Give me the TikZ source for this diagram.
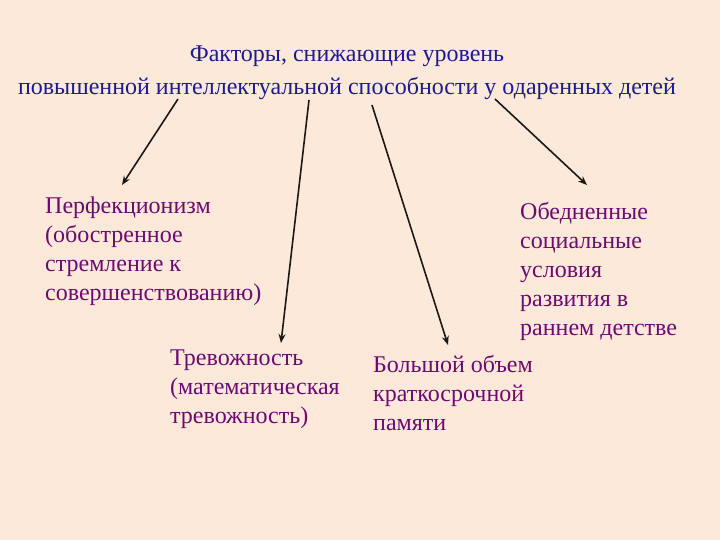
\documentclass[tikz,border=0pt]{standalone}
\usepackage{fontspec}
\setmainfont{Liberation Serif}
\usetikzlibrary{arrows.meta}
\definecolor{bgc}{HTML}{FDE9D9}
\definecolor{titlec}{HTML}{1C1C8C}
\definecolor{bodyc}{HTML}{6E0A72}
\tikzset{
  titletext/.style={text=titlec, font=\fontsize{24}{33}\selectfont, align=center, inner sep=0pt},
  bodytext/.style={text=bodyc, font=\fontsize{24}{29}\selectfont, align=left, inner sep=0pt, anchor=north west},
  arr/.style={draw=black!90, line width=1.6pt, -{Stealth[length=9pt,width=7pt]}}
}
\begin{document}
\begin{tikzpicture}[x=1pt,y=-1pt]
\fill[bgc] (0,0) rectangle (720,540);
\useasboundingbox (0,0) rectangle (720,540);
\node[titletext, anchor=north] (title) at (347,46) {Факторы, снижающие уровень\\повышенной интеллектуальной способности у одаренных детей};
\node[bodytext] (perf) at (45,197) {Перфекционизм\\(обостренное\\стремление к\\совершенствованию)};
\node[bodytext] (obed) at (520,202) {Обедненные\\социальные\\условия\\развития в\\раннем детстве};
\node[bodytext] (trev) at (170,350) {Тревожность\\(математическая\\тревожность)};
\node[bodytext] (bol) at (373,355) {Большой объем\\краткосрочной\\памяти};
\coordinate (s1) at (178,99);
\coordinate (e1) at (122,185);
\coordinate (s2) at (309,100);
\coordinate (e2) at (281,343);
\coordinate (s3) at (372,105);
\coordinate (e3) at (448,345);
\coordinate (s4) at (495,99);
\coordinate (e4) at (587,185);
\draw[arr] (s1) -- (e1);
\draw[arr] (s2) -- (e2);
\draw[arr] (s3) -- (e3);
\draw[arr] (s4) -- (e4);
\end{tikzpicture}
\end{document}
